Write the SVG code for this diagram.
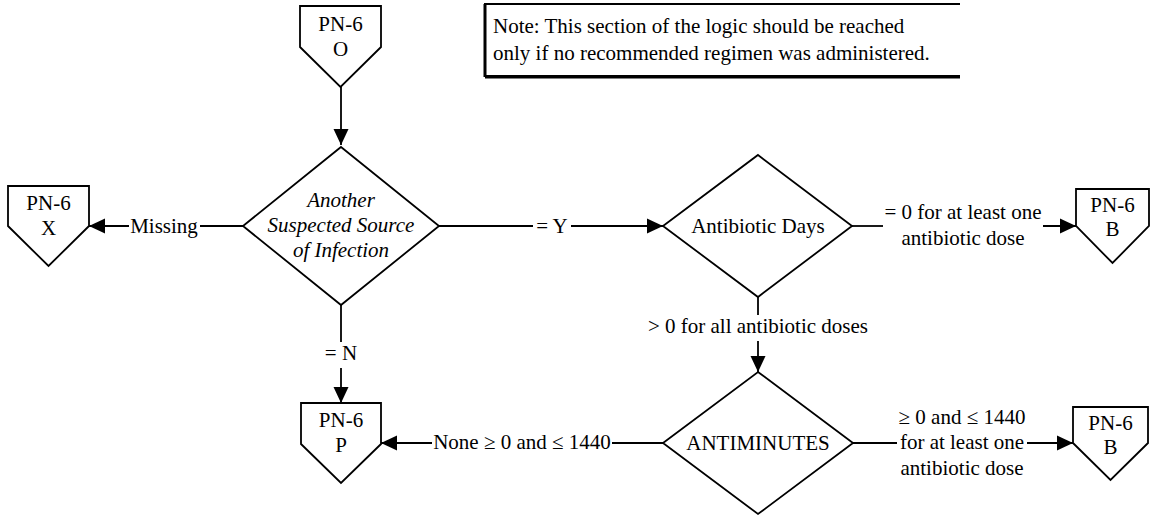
<svg xmlns="http://www.w3.org/2000/svg" width="1151" height="516" viewBox="0 0 1151 516">
  <defs>
    <marker id="arrow" markerUnits="userSpaceOnUse" markerWidth="17" markerHeight="16" refX="16" refY="8" orient="auto">
      <path d="M0,0.5 L16,8 L0,15.5 Z" fill="#000000"/>
    </marker>
  </defs>

  <rect width="1151" height="516" fill="#ffffff"/>

  <g font-family="Liberation Serif, Times New Roman, serif" font-size="21" fill="#000000">
    <!-- note box: open on the right -->
    <g id="note">
      <path d="M960,4 H485 V76 H960" fill="none" stroke="#000000" stroke-width="2"/>
      <path d="M485,4 V77 M485,77 H960" fill="none" stroke="#000000" stroke-width="3"/>
      <text x="493" y="33">Note: This section of the logic should be reached</text>
      <text x="493" y="60">only if no recommended regimen was administered.</text>
    </g>

    <!-- connectors: wires broken where a label sits -->
    <g id="connectors" text-anchor="middle">
      <g fill="none" stroke="#000000" stroke-width="1.8">
        <path d="M341,87 V145" marker-end="url(#arrow)"/>
        <path d="M243,226 H200"/>
        <path d="M129,226 H89" marker-end="url(#arrow)"/>
        <path d="M439,226 H533"/>
        <path d="M571,226 H663" marker-end="url(#arrow)"/>
        <path d="M852,226 H883"/>
        <path d="M1043,226 H1076" marker-end="url(#arrow)"/>
        <path d="M758,297 V315"/>
        <path d="M758,341 V372" marker-end="url(#arrow)"/>
        <path d="M341,305 V342"/>
        <path d="M341,368 V403" marker-end="url(#arrow)"/>
        <path d="M663,443 H612"/>
        <path d="M432,443 H381" marker-end="url(#arrow)"/>
        <path d="M853,443 H897"/>
        <path d="M1027,443 H1073" marker-end="url(#arrow)"/>
      </g>
      <text x="164" y="233">Missing</text>
      <text x="552" y="233">= Y</text>
      <text x="963" y="219">= 0 for at least one</text>
      <text x="963" y="245">antibiotic dose</text>
      <text x="758" y="333">&gt; 0 for all antibiotic doses</text>
      <text x="341" y="360">= N</text>
      <text x="522" y="449">None ≥ 0 and ≤ 1440</text>
      <text x="962" y="424">≥ 0 and ≤ 1440</text>
      <text x="962" y="449">for at least one</text>
      <text x="962" y="475">antibiotic dose</text>
    </g>

    <!-- off-page connectors -->
    <g id="pn6-o" text-anchor="middle">
      <path d="M300,6 H381 V47 L340.5,87 L300,47 Z" fill="#ffffff" stroke="#000000" stroke-width="1.8"/>
      <text x="340.5" y="31">PN-6</text>
      <text x="340.5" y="56">O</text>
    </g>
    <g id="pn6-x" text-anchor="middle">
      <path d="M8,186 H89 V226 L48.5,266 L8,226 Z" fill="#ffffff" stroke="#000000" stroke-width="1.8"/>
      <text x="48.5" y="210">PN-6</text>
      <text x="48.5" y="235">X</text>
    </g>
    <g id="pn6-p" text-anchor="middle">
      <path d="M301,403 H381 V444 L341,483 L301,444 Z" fill="#ffffff" stroke="#000000" stroke-width="1.8"/>
      <text x="341" y="427">PN-6</text>
      <text x="341" y="452">P</text>
    </g>
    <g id="pn6-b-days" text-anchor="middle">
      <path d="M1076,189 H1149 V226 L1112.5,263 L1076,226 Z" fill="#ffffff" stroke="#000000" stroke-width="1.8"/>
      <text x="1112.5" y="212">PN-6</text>
      <text x="1112.5" y="236">B</text>
    </g>
    <g id="pn6-b-minutes" text-anchor="middle">
      <path d="M1073,407 H1148 V443 L1110.5,480 L1073,443 Z" fill="#ffffff" stroke="#000000" stroke-width="1.8"/>
      <text x="1110.5" y="430">PN-6</text>
      <text x="1110.5" y="454">B</text>
    </g>

    <!-- decisions -->
    <g id="source-of-infection" text-anchor="middle">
      <path d="M341,147 L439,226 L341,305 L243,226 Z" fill="#ffffff" stroke="#000000" stroke-width="1.8"/>
      <text x="341" y="207" font-style="italic">Another</text>
      <text x="341" y="232" font-style="italic">Suspected Source</text>
      <text x="341" y="257" font-style="italic">of Infection</text>
    </g>
    <g id="antibiotic-days" text-anchor="middle">
      <path d="M758,155 L852,226 L758,297 L663,226 Z" fill="#ffffff" stroke="#000000" stroke-width="1.8"/>
      <text x="758" y="233">Antibiotic Days</text>
    </g>
    <g id="antiminutes" text-anchor="middle">
      <path d="M758,372 L853,443 L758,514 L663,443 Z" fill="#ffffff" stroke="#000000" stroke-width="1.8"/>
      <text x="758" y="450">ANTIMINUTES</text>
    </g>
  </g>
</svg>
